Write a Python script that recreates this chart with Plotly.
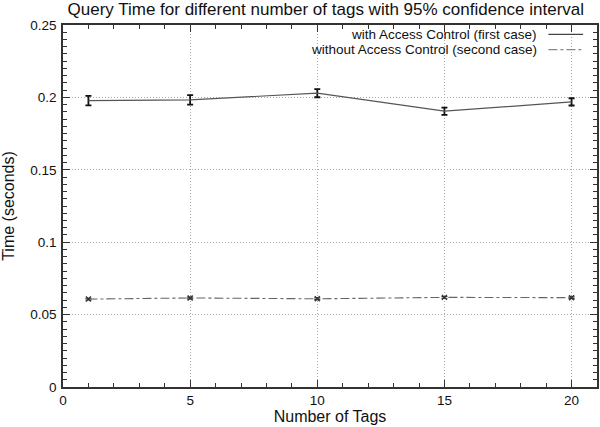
import plotly.graph_objects as go

# Query time measurements (seconds) with 95% confidence half-widths
tags = [1, 5, 10, 15, 20]
with_ac = [0.1978, 0.1983, 0.2029, 0.1905, 0.1969]
with_ac_ci = [0.0033, 0.0033, 0.0028, 0.0025, 0.0025]
without_ac = [0.0607, 0.0615, 0.0609, 0.0619, 0.0617]
without_ac_ci = [0.0006, 0.0006, 0.0006, 0.0006, 0.0006]

series_names = ["with Access Control (first case)", "without Access Control (second case)"]

FONT = "Liberation Sans, Arial, Helvetica, sans-serif"
AXIS_COLOR = "#333333"

fig = go.Figure()

fig.add_trace(go.Scatter(
    x=tags, y=with_ac, mode="lines",
    line=dict(color="#555555", width=1.2),
    error_y=dict(type="data", array=with_ac_ci, visible=True,
                 color="#111111", thickness=1.8, width=3),
    showlegend=False, name=series_names[0],
))
fig.add_trace(go.Scatter(
    x=tags, y=without_ac, mode="lines+markers",
    line=dict(color="#666666", width=1.1, dash="dashdot"),
    marker=dict(symbol="x-thin", size=5, line=dict(color="#333333", width=1.4)),
    error_y=dict(type="data", array=without_ac_ci, visible=True,
                 color="#333333", thickness=1.2, width=3),
    showlegend=False, name=series_names[1],
))

axis_common = dict(
    showline=True, linecolor=AXIS_COLOR, linewidth=1.5, mirror="ticks",
    ticks="inside", ticklen=7, tickcolor=AXIS_COLOR, tickwidth=1.4,
    showgrid=True, gridcolor="#aaaaaa", griddash="1px,2px", gridwidth=1,
    zeroline=False,
    tickfont=dict(family=FONT, size=13.5, color="#111111"),
)

fig.update_xaxes(
    range=[0, 21], tickmode="linear", tick0=0, dtick=5,
    minor=dict(ticks="inside", dtick=1, ticklen=4, tickcolor=AXIS_COLOR,
               tickwidth=1.4, showgrid=False),
    title=dict(text="Number of Tags", font=dict(family=FONT, size=16, color="#111111"), standoff=4),
    **axis_common,
)
fig.update_yaxes(
    range=[0, 0.25], tickmode="linear", tick0=0, dtick=0.05,
    minor=dict(ticks="inside", dtick=0.005, ticklen=4, tickcolor=AXIS_COLOR,
               tickwidth=1.4, showgrid=False),
    ticklabelstandoff=2,
    title=dict(text="Time (seconds)", font=dict(family=FONT, size=16, color="#111111"), standoff=13),
    **axis_common,
)

# Key in the upper right: right-aligned labels followed by line samples
key_rows = [(0.974, "solid", "#444444"), (0.932, "dashdot", "#888888")]
for (ypos, dash, col), label in zip(key_rows, series_names):
    fig.add_annotation(
        xref="paper", yref="paper", x=0.892, y=ypos, xanchor="right", yanchor="middle",
        text=label, showarrow=False, font=dict(family=FONT, size=13.5, color="#111111"),
    )
    fig.add_shape(
        type="line", xref="paper", yref="paper", x0=0.909, x1=0.974, y0=ypos, y1=ypos,
        line=dict(color=col, width=1.2, dash=dash),
    )

fig.update_layout(
    width=600, height=427,
    margin=dict(l=63, r=1, t=25, b=40),
    paper_bgcolor="white", plot_bgcolor="white",
    title=dict(text="Query Time for different number of tags with 95% confidence interval",
               x=0.543, xanchor="center", y=0.993, yanchor="top",
               font=dict(family=FONT, size=17, color="#111111")),
)

fig.write_html("out.html")
